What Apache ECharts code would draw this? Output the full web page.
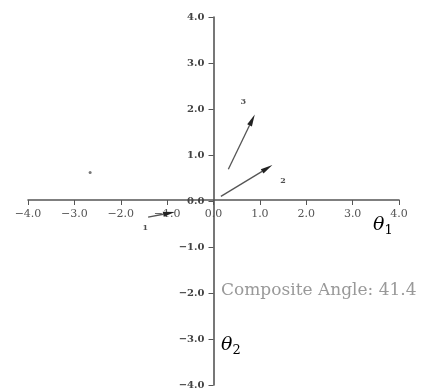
<!DOCTYPE html>
<html>
<head>
<meta charset="utf-8">
<script src="https://cdn.jsdelivr.net/npm/echarts@6/dist/echarts.min.js"></script>
<style>
  html, body { margin: 0; padding: 0; background: #fff; }
  #chart { width: 432px; height: 390px; }
</style>
</head>
<body>
<div id="chart"></div>
<script>
// arrows (theta1, theta2)
var arrowNames = ['1', '2', '3'];
var arrowStart = [[-1.41, -0.35], [0.16, 0.10], [0.32, 0.69]];
var arrowEnd = [[-0.83, -0.24], [1.27, 0.78], [0.89, 1.88]];
var arrowLabelAt = [[-1.47, -0.58], [1.50, 0.44], [0.64, 2.15]];
var strayPoint = [[-2.66, 0.62]];
var axisMin = -4;
var axisMax = 4;
var axisStep = 1;
var compositeAngle = 41.4;

var serif = 'DejaVu Serif, Liberation Serif, serif';

function tickText(v) {
  return (v < 0 ? '\u2212' : '') + Math.abs(v).toFixed(1);
}

var chart = echarts.init(document.getElementById('chart'));

// axes cross in the middle of the grid; shift them with offset so labels follow
var gridBox = { left: 28, right: 33, top: 17, bottom: 3 };
var gridW = 432 - gridBox.left - gridBox.right;
var gridH = 390 - gridBox.top - gridBox.bottom;

function makeAxis(extra) {
  return echarts.util.merge({
    type: 'value',
    min: axisMin,
    max: axisMax,
    interval: axisStep,
    axisLine: { show: true, onZero: false, lineStyle: { color: '#555', width: 1.6 } },
    axisTick: { show: true, length: 5, lineStyle: { color: '#555', width: 1 } },
    splitLine: { show: false },
    axisLabel: { fontFamily: serif, fontSize: 10, fontWeight: 'bold', color: '#444', formatter: tickText }
  }, extra, true);
}

var arrowData = arrowStart.map(function (s, i) {
  return [s[0], s[1], arrowEnd[i][0], arrowEnd[i][1]];
});

chart.setOption({
  animation: false,
  backgroundColor: '#fff',
  grid: gridBox,
  xAxis: makeAxis({
    position: 'bottom',
    offset: -gridH / 2,
    axisLabel: { margin: 9, color: '#555', fontSize: 11, fontWeight: 'normal' }
  }),
  yAxis: makeAxis({ position: 'left', offset: -gridW / 2, axisLabel: { margin: 9 } }),
  series: [
    {
      type: 'custom',
      data: arrowData,
      renderItem: function (params, api) {
        var a = api.coord([api.value(0), api.value(1)]);
        var b = api.coord([api.value(2), api.value(3)]);
        var dx = b[0] - a[0], dy = b[1] - a[1];
        var len = Math.sqrt(dx * dx + dy * dy);
        var ux = dx / len, uy = dy / len;
        var hl = 12, hw = 2.6;
        var base = [b[0] - ux * hl, b[1] - uy * hl];
        return {
          type: 'group',
          children: [
            {
              type: 'line',
              shape: { x1: a[0], y1: a[1], x2: base[0], y2: base[1] },
              style: { stroke: '#555', lineWidth: 1.3 }
            },
            {
              type: 'polygon',
              shape: {
                points: [b, [base[0] - uy * hw, base[1] + ux * hw], [base[0] + uy * hw, base[1] - ux * hw]]
              },
              style: { fill: '#222' }
            }
          ]
        };
      }
    },
    {
      type: 'scatter',
      symbolSize: 0,
      data: arrowLabelAt.map(function (p, i) { return { name: arrowNames[i], value: p }; }),
      label: {
        show: true,
        position: 'inside',
        formatter: '{b}',
        fontFamily: serif,
        fontWeight: 'bold',
        fontSize: 8,
        color: '#222'
      }
    },
    {
      type: 'scatter',
      symbolSize: 3,
      itemStyle: { color: '#555' },
      data: strayPoint
    }
  ],
  graphic: [
    {
      type: 'text',
      left: 373,
      top: 216,
      style: {
        text: '{t|θ}{s|1}',
        rich: {
          t: { fontFamily: serif, fontStyle: 'italic', fontSize: 19, color: '#444' },
          s: { fontFamily: serif, fontSize: 13, color: '#444', padding: [10, 0, 0, 0] }
        }
      }
    },
    {
      type: 'text',
      left: 221,
      top: 336,
      style: {
        text: '{t|θ}{s|2}',
        rich: {
          t: { fontFamily: serif, fontStyle: 'italic', fontSize: 19, color: '#444' },
          s: { fontFamily: serif, fontSize: 13, color: '#444', padding: [10, 0, 0, 0] }
        }
      }
    },
    {
      type: 'text',
      left: 221,
      top: 282,
      style: {
        text: 'Composite Angle: ' + compositeAngle.toFixed(1),
        fontFamily: serif,
        fontSize: 17,
        fill: '#999'
      }
    }
  ]
});
</script>
</body>
</html>
